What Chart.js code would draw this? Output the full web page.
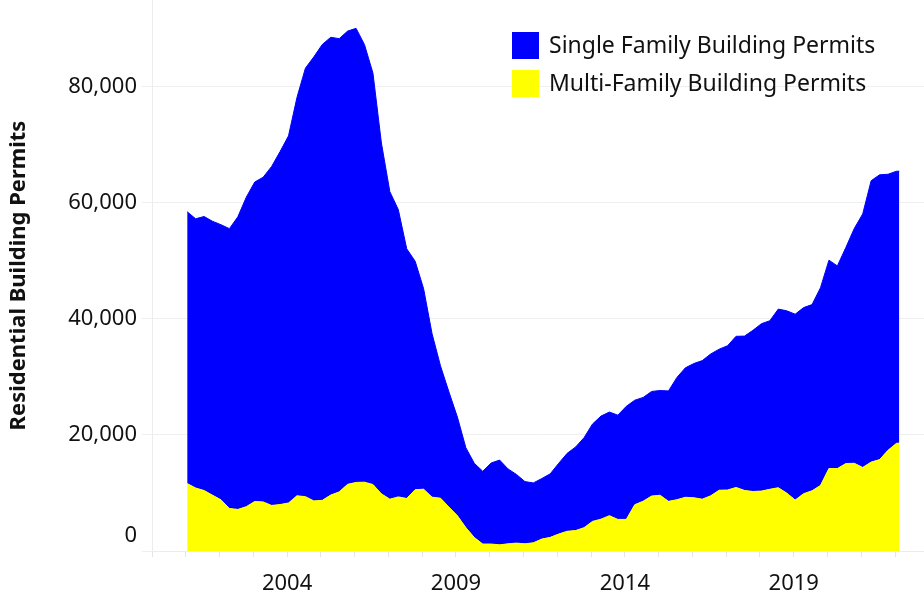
<!DOCTYPE html>
<html>
<head>
<meta charset="utf-8">
<script src="https://cdn.jsdelivr.net/npm/chart.js@4.4.1/dist/chart.umd.min.js"></script>
<style>
html,body{margin:0;padding:0;background:#fff;}
#wrap{width:924px;height:598px;}
canvas{display:block;}
</style>
</head>
<body>
<div id="wrap"><canvas id="c" width="924" height="598"></canvas></div>
<script>
const months = [
 '2001-01','2001-04','2001-07','2001-10',
 '2002-01','2002-04','2002-07','2002-10',
 '2003-01','2003-04','2003-07','2003-10',
 '2004-01','2004-04','2004-07','2004-10',
 '2005-01','2005-04','2005-07','2005-10',
 '2006-01','2006-04','2006-07','2006-10',
 '2007-01','2007-04','2007-07','2007-10',
 '2008-01','2008-04','2008-07','2008-10',
 '2009-01','2009-04','2009-07','2009-10',
 '2010-01','2010-04','2010-07','2010-10',
 '2011-01','2011-04','2011-07','2011-10',
 '2012-01','2012-04','2012-07','2012-10',
 '2013-01','2013-04','2013-07','2013-10',
 '2014-01','2014-04','2014-07','2014-10',
 '2015-01','2015-04','2015-07','2015-10',
 '2016-01','2016-04','2016-07','2016-10',
 '2017-01','2017-04','2017-07','2017-10',
 '2018-01','2018-04','2018-07','2018-10',
 '2019-01','2019-04','2019-07','2019-10',
 '2020-01','2020-04','2020-07','2020-10',
 '2021-01','2021-04','2021-07','2021-10',
 '2022-01','2022-02'
];

const multiFamily = [
 11620,10850,10420,9610,
 8810,7330,7160,7640,
 8530,8450,7850,8000,
 8270,9510,9360,8630,
 8720,9630,10180,11480,
 11810,11850,11450,9840,
 8930,9320,9050,10560,
 10640,9270,9100,7570,
 6080,4030,2330,1200,
 1200,1060,1240,1360,
 1240,1420,2060,2350,
 2920,3400,3520,4020,
 5100,5480,6090,5440,
 5440,7970,8580,9460,
 9610,8550,8840,9250,
 9170,8930,9510,10470,
 10510,10950,10440,10250,
 10320,10630,10900,9970,
 8770,9870,10370,11300,
 14210,14200,15060,15110,
 14390,15310,15740,17360,
 18540,18590
];

const singleFamily = [
 46810,46370,47190,47180,
 47390,48190,50400,53300,
 55020,55930,58380,60790,
 63230,68600,73800,76480,
 78520,78850,78060,78060,
 78210,75360,70850,60430,
 52960,49490,43000,39340,
 34530,28150,22780,19810,
 16990,13770,12780,12530,
 13960,14600,12890,11820,
 10710,10310,10420,10950,
 12190,13420,14390,15500,
 16770,17750,17840,17960,
 19470,18000,17870,18020,
 18030,19020,21060,22300,
 23120,23860,24430,24290,
 24850,26030,26570,27760,
 28820,29030,30760,31400,
 32020,32050,32070,34050,
 35880,34900,37210,40440,
 43670,48470,49050,47530,
 46870,46820
];

const seriesLabels = ['Single Family Building Permits', 'Multi-Family Building Permits'];
const xLabelYears = [2004, 2009, 2014, 2019];
const yTickValues = [0, 20000, 40000, 60000, 80000];
const yAxisTitle = 'Residential Building Permits';

const FONT = '"Noto Sans", "Open Sans", sans-serif';
const TEXT = '#111111';

function toDecimalYear(s) {
  const p = s.split('-').map(Number);
  return p[0] + (p[1] - 0.5) / 12;
}

const multiPoints = months.map((m, i) => ({ x: toDecimalYear(m), y: multiFamily[i] }));
const singlePoints = months.map((m, i) => ({ x: toDecimalYear(m), y: singleFamily[i] }));

const overlayPlugin = {
  id: 'overlay',
  afterDraw(chart) {
    const ctx = chart.ctx;
    ctx.save();
    const items = [
      { label: chart.data.datasets[1].label, color: chart.data.datasets[1].backgroundColor },
      { label: chart.data.datasets[0].label, color: chart.data.datasets[0].backgroundColor }
    ];
    ctx.font = '23px ' + FONT;
    ctx.textBaseline = 'middle';
    ctx.textAlign = 'left';
    items.forEach((it, i) => {
      const top = 32 + i * 38;
      ctx.fillStyle = it.color;
      ctx.fillRect(512, top, 27, 27);
      ctx.fillStyle = TEXT;
      ctx.fillText(it.label, 549, top + 14);
    });
    const ys = chart.scales.y;
    ctx.font = '22px ' + FONT;
    ctx.textAlign = 'right';
    ctx.fillStyle = TEXT;
    ctx.fillText('0', ys.right - 15, ys.getPixelForValue(0) - 15);
    ctx.restore();
  }
};

new Chart(document.getElementById('c'), {
  type: 'line',
  data: {
    datasets: [
      {
        label: seriesLabels[1],
        data: multiPoints,
        backgroundColor: '#ffff00',
        borderColor: '#ffff00',
        borderWidth: 1,
        fill: 'origin',
        pointRadius: 0,
        tension: 0
      },
      {
        label: seriesLabels[0],
        data: singlePoints,
        backgroundColor: '#0000ff',
        borderColor: '#0000ff',
        borderWidth: 1,
        fill: '-1',
        pointRadius: 0,
        tension: 0
      }
    ]
  },
  options: {
    responsive: false,
    animation: false,
    devicePixelRatio: 1,
    layout: { padding: 0 },
    plugins: {
      legend: { display: false },
      tooltip: { enabled: false },
      title: { display: false }
    },
    scales: {
      x: {
        type: 'linear',
        min: 2000,
        max: 2022.856,
        afterFit(s) { s.height = 47; s.paddingLeft = 0; s.paddingRight = 0; },
        ticks: {
          stepSize: 1,
          autoSkip: false,
          includeBounds: false,
          maxRotation: 0,
          minRotation: 0,
          padding: 14,
          color: TEXT,
          font: { family: FONT, size: 22 },
          callback: (v) => xLabelYears.includes(v) ? String(v) : ''
        },
        grid: { drawOnChartArea: false, drawTicks: true, tickLength: 6, color: '#e4e4e4' },
        border: { display: true, color: '#ececec' }
      },
      y: {
        stacked: true,
        min: 0,
        max: 94900,
        afterFit(s) { s.width = 152; s.paddingTop = 0; s.paddingBottom = 0; },
        afterBuildTicks(s) { s.ticks = yTickValues.map(v => ({ value: v })); },
        ticks: {
          padding: 5,
          color: TEXT,
          font: { family: FONT, size: 22 },
          callback: (v) => v === 0 ? '' : v.toLocaleString('en-US')
        },
        grid: { color: '#efefef', tickLength: 10, drawTicks: true },
        border: { display: true, color: '#ececec' },
        title: {
          display: true,
          text: yAxisTitle,
          color: TEXT,
          font: { family: FONT, size: 22, weight: 'bold' },
          padding: { top: 6, bottom: 0 }
        }
      }
    }
  },
  plugins: [overlayPlugin]
});
</script>
</body>
</html>
